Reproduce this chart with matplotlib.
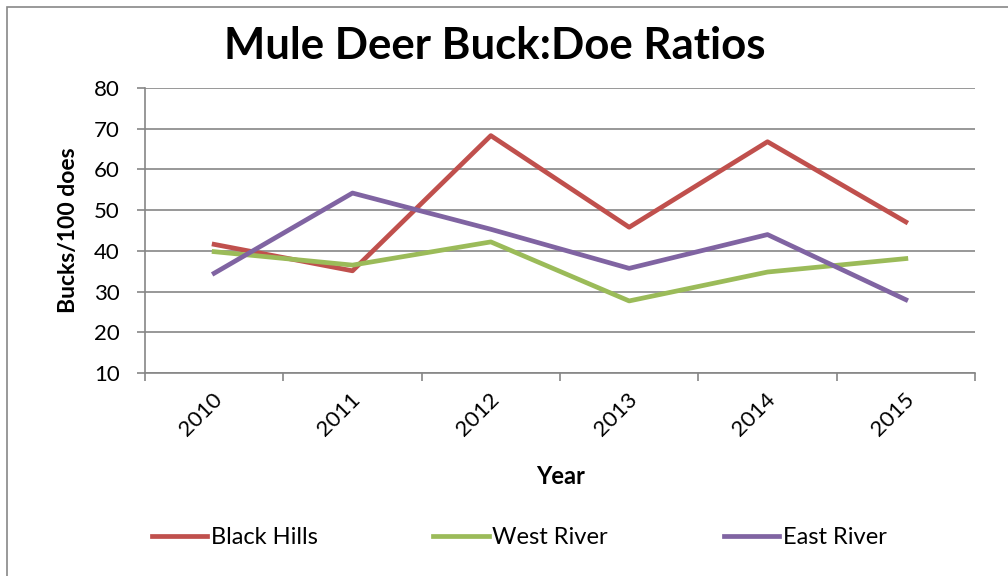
import numpy as np
import matplotlib
matplotlib.use("Agg")
import matplotlib.pyplot as plt
from matplotlib.patches import Rectangle
from matplotlib.transforms import ScaledTranslation

plt.rcParams['font.family'] = ['Lato', 'DejaVu Sans']

years = ['2010', '2011', '2012', '2013', '2014', '2015']
black_hills = [41.6, 35.1, 68.3, 45.8, 66.8, 47.1]
west_river = [39.8, 36.5, 42.2, 27.7, 34.8, 38.1]
east_river = [34.5, 54.2, 45.3, 35.7, 44.0, 28.0]

fig = plt.figure(figsize=(10.08, 5.76), dpi=100)
ax = fig.add_axes([145/1008, 1-373/576, 830/1008, 285/576])

x = np.arange(len(years))
ax.plot(x, black_hills, color='#C0504D', lw=3.4, label='Black Hills', solid_joinstyle='round')
ax.plot(x, west_river, color='#9BBB59', lw=3.4, label='West River', solid_joinstyle='round')
ax.plot(x, east_river, color='#8064A2', lw=3.4, label='East River', solid_joinstyle='round')

ax.set_xlim(-0.5, len(years) - 0.5)
ax.set_ylim(10, 80)
ax.set_yticks(range(10, 81, 10))
ax.yaxis.grid(True, color='#868686', lw=1.2)
ax.set_axisbelow(True)

# labels in the middle of each category, tick marks on the boundaries
ax.set_xticks(x)
ax.set_xticklabels(years, rotation=45, ha='right', va='center', rotation_mode='anchor')
ax.set_xticks(np.arange(-0.5, len(years)), minor=True)
ax.tick_params(axis='x', which='major', length=0, pad=17, labelsize=16)
ax.tick_params(axis='x', which='minor', length=6, color='#868686', width=1.2)
ax.tick_params(axis='y', length=6, color='#868686', width=1.2, labelsize=16, pad=12)
shift = ScaledTranslation(5/100, 0, fig.dpi_scale_trans)
for lab in ax.get_xticklabels():
    lab.set_transform(lab.get_transform() + shift)

for s in ['top', 'right']:
    ax.spines[s].set_visible(False)
for s in ['left', 'bottom']:
    ax.spines[s].set_color('#868686')
    ax.spines[s].set_linewidth(1.2)

fig.text(495/1008, 1-46/576, 'Mule Deer Buck:Doe Ratios', fontsize=31.5, fontweight='bold',
         ha='center', va='center')
fig.text(69/1008, 1-230/576, 'Bucks/100 does', fontsize=16.5, fontweight='bold',
         rotation=90, ha='center', va='center')
fig.text(561/1008, 1-477/576, 'Year', fontsize=17, fontweight='bold', ha='center', va='center')

leg = fig.legend(loc='center', bbox_to_anchor=(519/1008, 1-538/576), ncol=3, frameon=False,
                 fontsize=17, handlelength=2.35, handletextpad=0.15, columnspacing=4.9)

fig.patches.append(Rectangle((7/1008, -0.1), 1.2, 1.1 - 7/576, transform=fig.transFigure,
                             fill=False, edgecolor='#888888', lw=1.2))

fig.savefig('out.png', dpi=100)
